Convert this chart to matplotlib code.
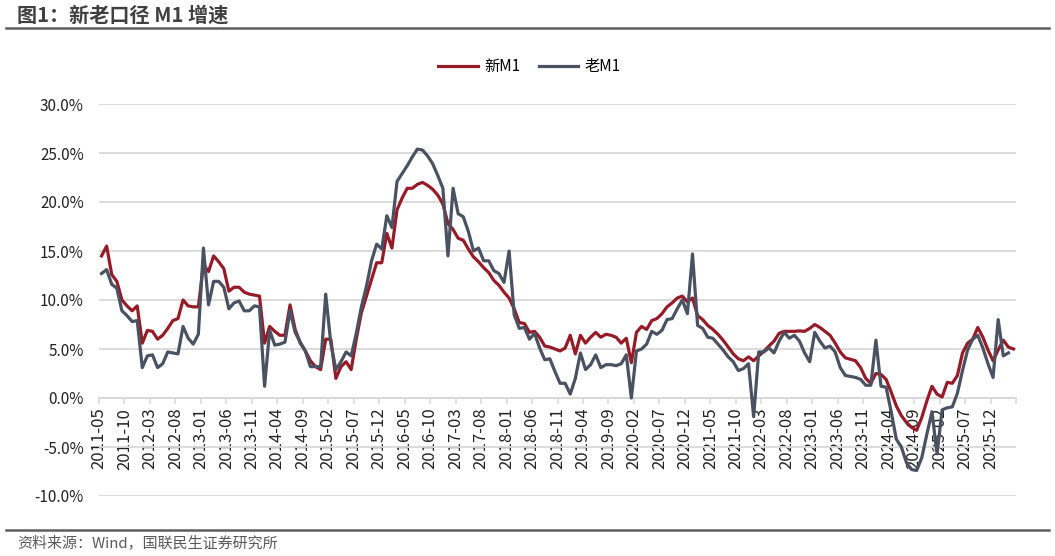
import matplotlib
matplotlib.use("Agg")
import matplotlib.pyplot as plt
import numpy as np
import pandas as pd

plt.rcParams['font.family'] = ['Noto Sans CJK SC', 'DejaVu Sans']

# monthly YoY growth, %, starting 2011-05
start_month = '2011-05'

new_m1 = [
    14.5, 15.5, 12.6, 11.9, 10.0, 9.4, 8.9, 9.4,
    5.6, 6.9, 6.8, 6.0, 6.4, 7.1, 7.9, 8.1, 10.0, 9.4, 9.3, 9.3,
    13.6, 12.9, 14.5, 13.9, 13.2, 10.9, 11.3, 11.3, 10.8, 10.6, 10.5, 10.4,
    5.6, 7.3, 6.8, 6.4, 6.4, 9.5, 7.0, 5.6, 4.8, 3.8, 3.2, 2.9,
    6.0, 6.0, 2.0, 3.2, 3.7, 2.9, 6.0, 8.7, 10.4, 12.1, 13.8, 13.8,
    16.8, 15.3, 19.2, 20.4, 21.4, 21.4, 21.8, 22.0, 21.7, 21.3, 20.7, 19.8,
    17.8, 17.2, 16.3, 16.1, 15.2, 14.4, 13.9, 13.3, 12.8, 12.0, 11.5, 10.8,
    10.2, 9.1, 7.7, 7.6, 6.7, 6.8, 6.2, 5.3, 5.2, 5.0, 4.8, 5.1,
    6.4, 4.5, 6.4, 5.6, 6.2, 6.7, 6.2, 6.5, 6.4, 6.2, 5.6, 6.1,
    3.6, 6.7, 7.3, 7.0, 7.9, 8.1, 8.6, 9.3, 9.7, 10.2, 10.4, 9.8,
    10.2, 8.4, 8.0, 7.4, 7.0, 6.5, 5.9, 5.2, 4.5, 4.0, 3.8, 4.2,
    3.8, 4.3, 4.75, 5.3, 5.8, 6.6, 6.8, 6.8, 6.8, 6.85, 6.8, 7.1,
    7.5, 7.2, 6.8, 6.4, 5.6, 4.7, 4.1, 3.95, 3.8, 3.1, 2.0, 1.5,
    2.5, 2.4, 1.9, 0.6, -0.8, -1.8, -2.5, -3.0, -3.3, -2.0, -0.3, 1.2,
    0.4, 0.1, 1.6, 1.5, 2.3, 4.6, 5.6, 6.0, 7.2, 6.2, 4.9, 3.8,
    4.9, 5.9, 5.2, 5.0,
]

old_m1 = [
    12.7, 13.1, 11.6, 11.2, 8.9, 8.4, 7.8, 7.9,
    3.1, 4.3, 4.4, 3.1, 3.5, 4.7, 4.6, 4.5, 7.3, 6.1, 5.5, 6.5,
    15.3, 9.5, 11.9, 11.9, 11.3, 9.1, 9.7, 9.9, 8.9, 8.9, 9.4, 9.3,
    1.2, 6.9, 5.4, 5.5, 5.7, 8.9, 6.7, 5.7, 4.8, 3.2, 3.2, 3.2,
    10.6, 5.6, 2.9, 3.7, 4.7, 4.3, 6.6, 9.3, 11.4, 14.0, 15.7, 15.2,
    18.6, 17.4, 22.1, 22.9, 23.7, 24.6, 25.4, 25.3, 24.7, 23.9, 22.7, 21.4,
    14.5, 21.4, 18.8, 18.5, 17.0, 15.0, 15.3, 14.0, 14.0, 13.0, 12.7, 11.8,
    15.0, 8.5, 7.1, 7.2, 6.0, 6.6, 5.1, 3.9, 4.0, 2.7, 1.5, 1.5,
    0.4, 2.0, 4.6, 2.9, 3.4, 4.4, 3.1, 3.4, 3.4, 3.3, 3.5, 4.4,
    0.0, 4.8, 5.0, 5.5, 6.8, 6.5, 6.9, 8.0, 8.1, 9.1, 10.0, 8.6,
    14.7, 7.4, 7.1, 6.2, 6.1, 5.5, 4.9, 4.2, 3.7, 2.8, 3.0, 3.5,
    -1.9, 4.7, 4.7, 5.1, 4.6, 5.8, 6.7, 6.1, 6.4, 5.8, 4.6, 3.7,
    6.7, 5.8, 5.1, 5.3, 4.7, 3.1, 2.3, 2.2, 2.1, 1.9, 1.3, 1.3,
    5.9, 1.2, 1.1, -1.4, -4.2, -5.0, -6.6, -7.3, -7.4, -6.1, -3.7, -1.4,
    -5.7, -1.2, -1.0, -0.9, 0.5, 2.8, 4.9, 6.0, 6.4, 5.1, 3.5, 2.1,
    8.0, 4.3, 4.6,
]

y_ticks = [-10, -5, 0, 5, 10, 15, 20, 25, 30]

months = pd.period_range(start_month, periods=len(new_m1), freq='M').strftime('%Y-%m')
tick_pos = np.arange(0, len(new_m1), 5)
tick_labels = [months[i] for i in tick_pos]

red = '#961b29'
gray = '#4a5262'
grid_c = '#d9d9d9'

fig = plt.figure(figsize=(10.55, 5.56), dpi=100)
ax = fig.add_axes([99 / 1055, 1 - 496 / 556, (1016 - 99) / 1055, (496 - 104) / 556])

x_new = np.arange(len(new_m1)) + 0.5
x_old = np.arange(len(old_m1)) + 0.5
ax.plot(x_new, new_m1, color=red, lw=2.3, label='新M1', solid_joinstyle='round', zorder=3)
ax.plot(x_old, old_m1, color=gray, lw=2.3, label='老M1', solid_joinstyle='round', zorder=4)

ax.set_xlim(0, len(new_m1))
ax.set_ylim(-10, 30)
ax.set_yticks(y_ticks)
ax.set_yticklabels([f'{v:.1f}%' for v in y_ticks])
ax.yaxis.grid(True, color=grid_c, lw=1.3)
ax.set_axisbelow(True)

ax.set_xticks(list(tick_pos) + [len(new_m1)])
ax.set_xticklabels(tick_labels + [''])

for s in ['top', 'right', 'left']:
    ax.spines[s].set_visible(False)
ax.spines['bottom'].set_position(('data', 0))
ax.spines['bottom'].set_color(grid_c)
ax.spines['bottom'].set_linewidth(1.3)

ax.tick_params(axis='y', length=0, pad=11, labelsize=11, labelcolor='#222222')
ax.tick_params(axis='x', length=4, width=1.1, color=grid_c, pad=3, labelsize=12,
               labelcolor='#222222', labelrotation=90)

fig.legend(loc='center', bbox_to_anchor=(0.502, 1 - 67 / 556), ncol=2, frameon=False,
           fontsize=11, handlelength=2.6, columnspacing=1.2, handletextpad=0.4)

# title and source
fig.text(17 / 1055, 1 - 15 / 556, '图1：新老口径 M1 增速', fontsize=14.5, fontweight='bold',
         color='#404040', va='center', ha='left')
fig.add_artist(plt.Line2D([6 / 1055, 1049 / 1055], [1 - 28 / 556] * 2, color='#5f5f5f', lw=1.8))
fig.add_artist(plt.Line2D([6 / 1055, 1049 / 1055], [1 - 530 / 556] * 2, color='#5f5f5f', lw=1.8))
fig.text(17 / 1055, 1 - 544 / 556, '资料来源：Wind，国联民生证券研究所', fontsize=10.8,
         color='#595959', va='center', ha='left')

fig.savefig('out.png', dpi=100)
